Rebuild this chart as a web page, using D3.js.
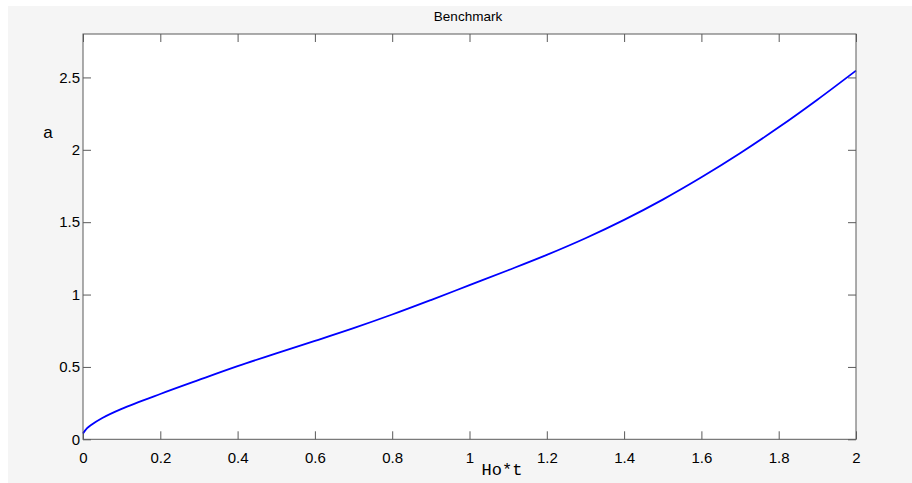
<!DOCTYPE html>
<html>
<head>
<meta charset="utf-8">
<script src="https://cdn.jsdelivr.net/npm/d3@7"></script>
<style>
  html, body { margin: 0; padding: 0; background: #ffffff; }
  svg { display: block; }
</style>
</head>
<body>
<svg id="chart" width="912" height="483"></svg>
<script>
// Scale factor a versus dimensionless time Ho*t
const timeValues = [0, 0.01, 0.02, 0.05, 0.1, 0.2, 0.3, 0.4, 0.5, 0.6, 0.7, 0.8, 0.9, 1.0,
                    1.1, 1.2, 1.3, 1.4, 1.5, 1.6, 1.7, 1.8, 1.9, 2.0];
const scaleFactor = [0.04, 0.075, 0.097, 0.147, 0.21, 0.313, 0.41, 0.505, 0.594, 0.68, 0.768, 0.862,
                     0.962, 1.065, 1.168, 1.274, 1.389, 1.516, 1.656, 1.81, 1.976, 2.155, 2.346, 2.547];
const xTicks = [0, 0.2, 0.4, 0.6, 0.8, 1, 1.2, 1.4, 1.6, 1.8, 2];
const yTicks = [0, 0.5, 1, 1.5, 2, 2.5];
const xDomain = [0, 2];
const yDomain = [0, 2.8];

const svg = d3.select("#chart");
const W = 912, H = 483;
const plot = { left: 83, right: 856, top: 34, bottom: 439.3 };

// Figure background
svg.append("rect").attr("x", 8).attr("y", 6).attr("width", W - 8).attr("height", H - 6)
  .attr("fill", "#f5f5f5");

const x = d3.scaleLinear().domain(xDomain).range([plot.left, plot.right]);
const y = d3.scaleLinear().domain(yDomain).range([plot.bottom, plot.top]);

// Axes area
svg.append("rect")
  .attr("x", plot.left).attr("y", plot.top)
  .attr("width", plot.right - plot.left).attr("height", plot.bottom - plot.top)
  .attr("fill", "#ffffff");

const fmt = d => d3.format("")(+d.toFixed(1));
const tickLen = 8;
const axisColor = "#5a5a5a";

function styleAxis(g, showLabels) {
  g.select(".domain").remove();
  g.selectAll(".tick line").attr("stroke", axisColor).attr("stroke-width", 1);
  g.selectAll(".tick text")
    .attr("fill", "#000")
    .style("font-family", "'Liberation Sans', Arial, Helvetica, sans-serif")
    .style("font-size", "15px");
  if (!showLabels) g.selectAll(".tick text").remove();
}

// Bottom axis (ticks pointing inward)
svg.append("g")
  .attr("transform", `translate(0,${plot.bottom})`)
  .call(d3.axisBottom(x).tickValues(xTicks).tickSize(-tickLen).tickPadding(13).tickFormat(fmt))
  .call(g => styleAxis(g, true));

// Top axis (ticks only)
svg.append("g")
  .attr("transform", `translate(0,${plot.top})`)
  .call(d3.axisTop(x).tickValues(xTicks).tickSize(-tickLen))
  .call(g => styleAxis(g, false));

// Left axis
svg.append("g")
  .attr("transform", `translate(${plot.left},0)`)
  .call(d3.axisLeft(y).tickValues(yTicks).tickSize(-tickLen).tickPadding(3).tickFormat(fmt))
  .call(g => styleAxis(g, true));

// Right axis (ticks only)
svg.append("g")
  .attr("transform", `translate(${plot.right},0)`)
  .call(d3.axisRight(y).tickValues(yTicks).tickSize(-tickLen))
  .call(g => styleAxis(g, false));

// Curve
const data = timeValues.map((t, i) => ({ t, a: scaleFactor[i] }));
svg.append("path")
  .datum(data)
  .attr("fill", "none")
  .attr("stroke", "#0000ff")
  .attr("stroke-width", 1.8)
  .attr("d", d3.line().x(d => x(d.t)).y(d => y(d.a)).curve(d3.curveCatmullRom.alpha(0.5)));

// Axes box
svg.append("rect")
  .attr("x", plot.left).attr("y", plot.top)
  .attr("width", plot.right - plot.left).attr("height", plot.bottom - plot.top)
  .attr("fill", "none").attr("stroke", axisColor).attr("stroke-width", 1);

// Title
svg.append("text")
  .attr("x", 468).attr("y", 20.5)
  .attr("text-anchor", "middle")
  .style("font-family", "'Liberation Sans', Arial, Helvetica, sans-serif")
  .style("font-size", "13.5px")
  .text("Benchmark");

// Y label
svg.append("text")
  .attr("x", 48).attr("y", 138)
  .attr("text-anchor", "middle")
  .style("font-family", "'Liberation Sans', Arial, Helvetica, sans-serif")
  .style("font-size", "17px")
  .text("a");

// X label
svg.append("text")
  .attr("x", 502).attr("y", 475)
  .attr("text-anchor", "middle")
  .style("font-family", "'Liberation Mono', 'Courier New', monospace")
  .style("font-size", "17px")
  .text("Ho*t");
</script>
</body>
</html>
